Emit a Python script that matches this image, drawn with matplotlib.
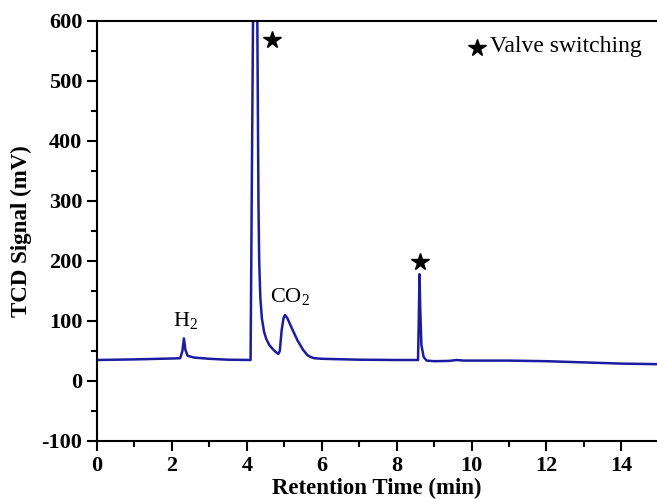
import matplotlib
matplotlib.use("Agg")
import matplotlib.pyplot as plt
from matplotlib.ticker import MultipleLocator

plt.rcParams['font.family'] = ['Liberation Serif', 'DejaVu Serif']
plt.rcParams['mathtext.fontset'] = 'custom'
plt.rcParams['mathtext.rm'] = 'Liberation Serif'
plt.rcParams['axes.unicode_minus'] = False

time_min = [0, 1.0, 2.0, 2.22, 2.28, 2.32, 2.36, 2.42, 2.6, 3.0, 3.5, 4.1,
            4.13, 4.20, 4.28, 4.31, 4.33, 4.36, 4.40, 4.46, 4.52, 4.60, 4.68,
            4.76, 4.84, 4.88, 4.93, 4.98, 5.02, 5.08, 5.2, 5.35, 5.5, 5.62,
            5.7, 5.8, 6.0, 7.0, 8.0, 8.57, 8.59, 8.61, 8.63, 8.66, 8.72, 8.8,
            9.0, 9.4, 9.6, 9.8, 10.5, 11.0, 12.0, 13.0, 14.0, 15.0]
signal_mv = [35, 36, 37.5, 38, 50, 71, 52, 42, 39, 37, 35.5, 35,
             300, 900, 600, 300, 200, 140, 105, 82, 70, 60, 54,
             49, 45, 50, 85, 105, 110, 105, 88, 68, 52, 43,
             40, 38, 37, 35.5, 35, 35, 100, 178, 120, 60, 40, 34,
             33, 33.5, 35, 34, 34, 34, 33, 31, 29, 28]

star_x = [4.68, 8.61]
star_y = [569, 198]
peak_labels = ["H$_2$", "CO$_2$"]
label_x = [2.37, 5.14]
label_y = [99, 140]
legend_text = "Valve switching"

fig = plt.figure(figsize=(6.57, 4.99), dpi=100)
ax = fig.add_axes([97/657, 58/499, 1 - 97/657, (441 - 21)/499])

ax.plot(time_min, signal_mv, color='#1c1ca0', lw=1.8)
ax.plot(star_x, star_y, linestyle='none', marker='*', color='black', markersize=13)

for t, x, y in zip(peak_labels, label_x, label_y):
    ax.text(x, y, t, fontsize=16, ha='center', va='center')

ax.plot([10.14], [555], marker='*', color='black', markersize=13, linestyle='none')
ax.text(10.5, 557, legend_text, fontsize=17, ha='left', va='center')

ax.set_xlim(0, 14.95)
ax.set_ylim(-100, 600)
ax.xaxis.set_major_locator(MultipleLocator(2))
ax.xaxis.set_minor_locator(MultipleLocator(1))
ax.yaxis.set_major_locator(MultipleLocator(100))
ax.yaxis.set_minor_locator(MultipleLocator(50))

ax.spines['right'].set_visible(False)
for s in ['left', 'bottom', 'top']:
    ax.spines[s].set_linewidth(1.5)

ax.tick_params(which='major', direction='out', length=7, width=1.5,
               labelsize=16, top=False, right=False)
ax.tick_params(which='minor', direction='out', length=4, width=1.5,
               top=False, right=False)
for lbl in ax.get_xticklabels() + ax.get_yticklabels():
    lbl.set_fontweight('bold')

ax.set_xlabel("Retention Time (min)", fontsize=16.5, fontweight='bold', labelpad=2)
ax.set_ylabel("TCD Signal (mV)", fontsize=16.5, fontweight='bold', labelpad=7)

fig.savefig("out.png", dpi=100)
